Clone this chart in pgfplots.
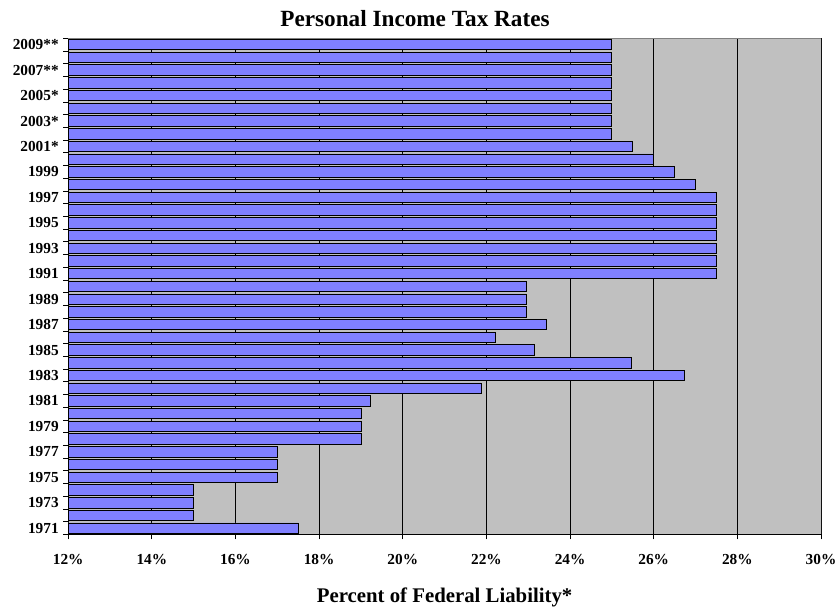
\documentclass[border=0pt]{standalone}
\usepackage{pgfplots}
\pgfplotsset{compat=1.18}
\usepackage{fontspec}
\setmainfont{Liberation Serif}
\definecolor{barblue}{HTML}{8080FF}
\definecolor{plotgray}{HTML}{C0C0C0}
\definecolor{bordergray}{HTML}{808080}
\begin{document}
\begin{tikzpicture}
\path[use as bounding box] (0,0) rectangle (836pt,608pt);
\begin{axis}[
  at={(68.2pt,73.5pt)}, anchor=south west,
  scale only axis, width=752.8pt, height=496.2pt,
  xmin=12, xmax=30, ymin=-0.5, ymax=38.5,
  axis background/.style={fill=plotgray},
  axis x line*=bottom, axis y line*=left,
  axis line style={black, line width=0.8pt},
  xtick={12,14,...,30},
  xticklabels={12\%,14\%,16\%,18\%,20\%,22\%,24\%,26\%,28\%,30\%},
  ytick={0,2,...,38},
  yticklabels={1971,1973,1975,1977,1979,1981,1983,1985,1987,1989,1991,1993,1995,1997,1999,2001*,2003*,2005*,2007**,2009**},
  minor ytick={-0.5,0.5,...,38.5},
  tick align=outside,
  major tick length=5pt, minor tick length=5pt,
  major x tick style={black, line width=0.8pt},
  major y tick style={draw=none},
  minor y tick style={black, line width=0.8pt},
  xmajorgrids, major x grid style={black, line width=0.8pt},
  ticklabel style={font=\fontsize{15.3}{18}\selectfont\bfseries},
  yticklabel style={xshift=-1pt},
  xticklabel style={yshift=-11pt},
  every axis title shift=0pt,
  title={Personal Income Tax Rates},
  title style={font=\fontsize{23.2}{26}\selectfont\bfseries, at={(rel axis cs:0.4607,1)}, anchor=base, yshift=12.3pt, inner sep=0pt},
  xlabel={Percent of Federal Liability*},
  xlabel style={font=\fontsize{20.8}{24}\selectfont\bfseries, at={(rel axis cs:0.5,0)}, anchor=base, yshift=-68.5pt, inner sep=0pt},
  xbar, bar width=0.82,
]
\addplot[fill=barblue, draw=black, line width=0.8pt] coordinates {
(17.5,0) (15,1) (15,2) (15,3) (17,4) (17,5) (17,6) (19,7) (19,8) (19,9)
(19.22,10) (21.88,11) (26.74,12) (25.46,13) (23.14,14) (22.22,15) (23.43,16) (22.95,17) (22.95,18) (22.95,19)
(27.5,20) (27.5,21) (27.5,22) (27.5,23) (27.5,24) (27.5,25) (27.5,26) (27,27) (26.5,28) (26,29)
(25.5,30) (25,31) (25,32) (25,33) (25,34) (25,35) (25,36) (25,37) (25,38)
};
\draw[bordergray, line width=0.8pt] (rel axis cs:0,1) -- (rel axis cs:1,1) -- (rel axis cs:1,0);
\end{axis}
\end{tikzpicture}
\end{document}
